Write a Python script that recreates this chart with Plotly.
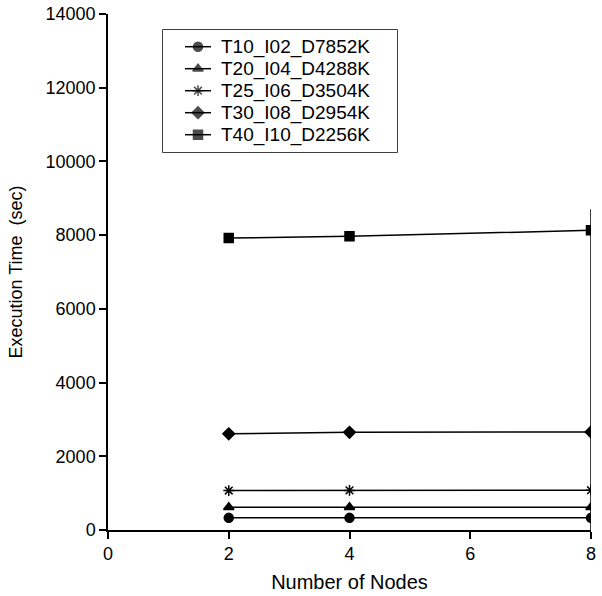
import plotly.graph_objects as go

nodes = [2, 4, 8]
series_names = ["T10_I02_D7852K", "T20_I04_D4288K", "T25_I06_D3504K",
                "T30_I08_D2954K", "T40_I10_D2256K"]
t10 = [330, 330, 330]
t20 = [620, 620, 620]
t25 = [1070, 1075, 1080]
t30 = [2610, 2650, 2660]
t40 = [7920, 7970, 8130]
series_values = [t10, t20, t25, t30, t40]
symbols = ["circle", "triangle-up", "asterisk-open", "diamond", "square"]

x_ticks = [0, 2, 4, 6, 8]
y_ticks = [0, 2000, 4000, 6000, 8000, 10000, 12000, 14000]

FONT = "Liberation Sans, Arial, sans-serif"
W, H = 602, 596
ML, MR, MT, MB = 108, 11, 14, 66
PW, PH = W - ML - MR, H - MT - MB

fig = go.Figure()
for name, vals, sym in zip(series_names, series_values, symbols):
    fig.add_trace(go.Scatter(
        x=nodes, y=vals, name=name, mode="lines+markers", showlegend=False,
        line=dict(color="black", width=1.5),
        marker=dict(symbol=sym, size=9, color="black",
                    line=dict(color="black", width=1.5)),
    ))

# vertical line at the last node position
fig.add_shape(type="line", xref="x", yref="y", x0=8, x1=8, y0=0, y1=8700,
              line=dict(color="black", width=1.5))

# ---- custom legend drawn in an overlay axis (pixel-like units) ----
box_px = dict(x0=163, x1=397, y0=30, y1=152)
dom_x = [(box_px["x0"] - ML) / PW, (box_px["x1"] - ML) / PW]
dom_y = [(H - MB - box_px["y1"]) / PH, (H - MB - box_px["y0"]) / PH]
box_w = box_px["x1"] - box_px["x0"]
box_h = box_px["y1"] - box_px["y0"]
row_gap = 22
row0 = 16.7
for i, (name, sym) in enumerate(zip(series_names, symbols)):
    ry = row0 + i * row_gap
    fig.add_trace(go.Scatter(
        x=[22, 35, 48], y=[ry, ry, ry], mode="lines+markers",
        xaxis="x2", yaxis="y2", showlegend=False, hoverinfo="skip",
        line=dict(color="black", width=1.5),
        marker=dict(symbol=sym, size=[0, 9, 0], color="black",
                    line=dict(color="black", width=1.5)),
    ))
    fig.add_annotation(x=56, y=ry, xref="x2", yref="y2", text=name,
                       showarrow=False, xanchor="left", yanchor="middle",
                       font=dict(size=19, family=FONT, color="black"))

fig.add_shape(type="rect", xref="paper", yref="paper",
              x0=dom_x[0], x1=dom_x[1], y0=dom_y[0], y1=dom_y[1],
              line=dict(color="black", width=1.5), fillcolor="white", layer="below")

fig.update_layout(
    width=W, height=H,
    margin=dict(l=ML, r=MR, t=MT, b=MB, autoexpand=False),
    paper_bgcolor="white", plot_bgcolor="white",
    font=dict(family=FONT, size=18, color="black"),
    showlegend=False,
    xaxis=dict(range=[0, 8], tickvals=x_ticks, ticktext=[str(v) for v in x_ticks],
               showgrid=False, zeroline=False, showline=True, linecolor="black",
               linewidth=1.5, ticks="outside", ticklen=7, tickcolor="black",
               tickwidth=1.5, automargin=False,
               title=dict(text="Number of Nodes", standoff=12, font=dict(size=20)),
               tickfont=dict(size=18)),
    yaxis=dict(range=[0, 14000], tickvals=y_ticks, ticktext=[str(v) for v in y_ticks],
               showgrid=False, zeroline=False, showline=True, linecolor="black",
               linewidth=1.5, ticks="outside", ticklen=7, tickcolor="black",
               tickwidth=1.5, automargin=False,
               title=dict(text="Execution Time  (sec)", standoff=18, font=dict(size=18)),
               tickfont=dict(size=18)),
    xaxis2=dict(domain=dom_x, range=[0, box_w], anchor="y2", visible=False,
                fixedrange=True),
    yaxis2=dict(domain=dom_y, range=[box_h, 0], anchor="x2", visible=False,
                fixedrange=True),
)

fig.write_html("out.html")
